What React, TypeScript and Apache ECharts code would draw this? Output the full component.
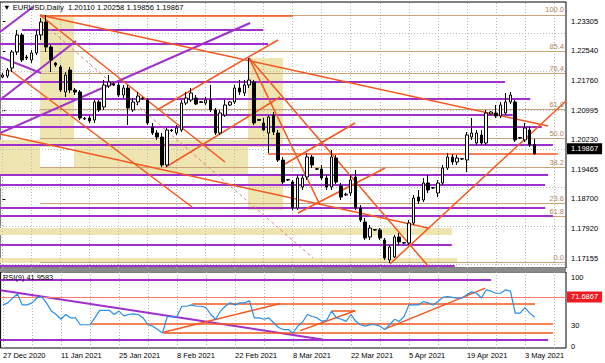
import React, { useEffect, useRef } from 'react';
import * as echarts from 'echarts';

const FONT = 'Liberation Sans, Arial, sans-serif';
const SLOTS = 117;
const LABEL_STEP = 12;
const GRID_STEP = 6;

const dateLabels = ['27 Dec 2020', '11 Jan 2021', '25 Jan 2021', '8 Feb 2021', '22 Feb 2021', '8 Mar 2021', '22 Mar 2021', '5 Apr 2021', '19 Apr 2021', '3 May 2021'];
const priceTicks = ['1.23305', '1.22540', '1.21760', '1.20995', '1.20230', '1.19465', '1.18700', '1.17920', '1.17155'];
const rsiTicks = ['100', '30', '0'];

const titleText = '\u25BC EURUSD,Daily  1.20110 1.20258 1.19856 1.19867';
const rsiTitle = 'RSI(9) 41.9583';
const lastClose = 1.19867;
const rsiMarker = 71.6867;

// [open, close, low, high]
const ohlc = [
  [1.21864, 1.21916, 1.21838, 1.21967], [1.2189, 1.22045, 1.21838, 1.22097], [1.22097, 1.22513, 1.21993, 1.22565],
  [1.22513, 1.22954, 1.22435, 1.23084], [1.22954, 1.22305, 1.22253, 1.23006], [1.22383, 1.22357, 1.22305, 1.22435],
  [1.22305, 1.22487, 1.22227, 1.22565], [1.22487, 1.22954, 1.22435, 1.23084], [1.22954, 1.23292, 1.22825, 1.23396],
  [1.23292, 1.22643, 1.22513, 1.23474], [1.22643, 1.22305, 1.21993, 1.22695], [1.22227, 1.22175, 1.22123, 1.22253],
  [1.22123, 1.21526, 1.21474, 1.22175], [1.21474, 1.21916, 1.21344, 1.21993], [1.22045, 1.21526, 1.21448, 1.22123],
  [1.21526, 1.21474, 1.21396, 1.21578], [1.21474, 1.20799, 1.20747, 1.21526], [1.2079, 1.20773, 1.20747, 1.20825],
  [1.20799, 1.20721, 1.20669, 1.20851], [1.20747, 1.21214, 1.20669, 1.21266], [1.21214, 1.21007, 1.20955, 1.21266],
  [1.21084, 1.21656, 1.21007, 1.21786], [1.2163, 1.21734, 1.21578, 1.21916], [1.2168, 1.21656, 1.2163, 1.21734],
  [1.21656, 1.21396, 1.21344, 1.21734], [1.21396, 1.21578, 1.21318, 1.21656], [1.21578, 1.21058, 1.20617, 1.21656],
  [1.21007, 1.21214, 1.20955, 1.21318], [1.21214, 1.2137, 1.21136, 1.21474], [1.21318, 1.21292, 1.21266, 1.21344],
  [1.21266, 1.20669, 1.20617, 1.21318], [1.20565, 1.20409, 1.20357, 1.20669], [1.20409, 1.20305, 1.20228, 1.20487],
  [1.20305, 1.19578, 1.19526, 1.20409], [1.19578, 1.20487, 1.19526, 1.20539], [1.20487, 1.2047, 1.20435, 1.20513],
  [1.20409, 1.20539, 1.20357, 1.20617], [1.20487, 1.21188, 1.20435, 1.21266], [1.21188, 1.21318, 1.21136, 1.21474],
  [1.21266, 1.21448, 1.21214, 1.21578], [1.21318, 1.21162, 1.21136, 1.21396], [1.2122, 1.21205, 1.21188, 1.2124],
  [1.21188, 1.21266, 1.21136, 1.21344], [1.21266, 1.21007, 1.20955, 1.21656], [1.21007, 1.20409, 1.20357, 1.21058],
  [1.20409, 1.20929, 1.20357, 1.21007], [1.20877, 1.21136, 1.20825, 1.21266], [1.21136, 1.21214, 1.2111, 1.2124],
  [1.21214, 1.21578, 1.21162, 1.21656], [1.21578, 1.21474, 1.21396, 1.21786], [1.21448, 1.21656, 1.2137, 1.21786],
  [1.21656, 1.21786, 1.21578, 1.22357], [1.21734, 1.20669, 1.20617, 1.21786], [1.2076, 1.2074, 1.20721, 1.20773],
  [1.20669, 1.20487, 1.20461, 1.20799], [1.20409, 1.20825, 1.1989, 1.20877], [1.20877, 1.20435, 1.20357, 1.20955],
  [1.20409, 1.19708, 1.19656, 1.20487], [1.19708, 1.19137, 1.19085, 1.19786], [1.192, 1.19189, 1.19163, 1.19215],
  [1.19137, 1.18461, 1.1841, 1.19189], [1.18461, 1.19241, 1.1841, 1.19319], [1.19007, 1.19241, 1.18929, 1.19319],
  [1.19267, 1.19786, 1.19189, 1.1989], [1.19786, 1.19578, 1.195, 1.19838], [1.1948, 1.1947, 1.19449, 1.195],
  [1.19474, 1.19241, 1.19189, 1.19578], [1.19241, 1.19007, 1.18929, 1.19319], [1.19007, 1.19786, 1.18929, 1.19968],
  [1.1976, 1.19137, 1.19085, 1.19838], [1.19033, 1.18747, 1.18669, 1.19111], [1.188, 1.1882, 1.1878, 1.1886],
  [1.18851, 1.19189, 1.18773, 1.19319], [1.19267, 1.18461, 1.1841, 1.19449], [1.18461, 1.1815, 1.18098, 1.18539],
  [1.18098, 1.17682, 1.17631, 1.18202], [1.17708, 1.17942, 1.17631, 1.1802], [1.179, 1.1789, 1.17864, 1.17916],
  [1.1789, 1.17682, 1.17631, 1.17942], [1.17631, 1.17163, 1.17111, 1.17682], [1.17111, 1.17449, 1.17033, 1.17501],
  [1.17189, 1.17708, 1.17163, 1.1776], [1.17708, 1.17579, 1.17501, 1.17812], [1.1756, 1.17553, 1.17527, 1.17579],
  [1.17553, 1.18072, 1.17501, 1.1815], [1.18072, 1.18721, 1.1802, 1.18799], [1.18747, 1.18643, 1.18565, 1.18929],
  [1.18669, 1.19111, 1.18617, 1.19241], [1.19111, 1.18929, 1.18851, 1.19319], [1.1899, 1.18981, 1.18955, 1.19007],
  [1.18851, 1.19111, 1.18747, 1.19189], [1.19111, 1.195, 1.19059, 1.19578], [1.195, 1.19786, 1.19449, 1.1989],
  [1.19786, 1.19656, 1.19578, 1.19864], [1.19656, 1.1976, 1.19578, 1.19838], [1.1974, 1.19734, 1.19708, 1.1976],
  [1.19708, 1.20357, 1.19397, 1.20435], [1.20305, 1.20409, 1.20228, 1.20799], [1.2015, 1.20409, 1.20098, 1.20487],
  [1.20357, 1.2015, 1.20098, 1.20487], [1.2015, 1.20929, 1.20098, 1.21007], [1.20903, 1.20955, 1.20877, 1.20981],
  [1.20929, 1.20851, 1.20799, 1.21136], [1.20851, 1.21136, 1.20799, 1.21214], [1.20929, 1.21214, 1.20877, 1.21448],
  [1.21214, 1.21396, 1.21162, 1.21474], [1.21214, 1.20228, 1.20176, 1.21266], [1.2029, 1.20279, 1.20253, 1.20305],
  [1.20228, 1.20539, 1.20176, 1.20669], [1.20487, 1.2011, 1.20046, 1.20565], [1.2011, 1.19867, 1.19856, 1.20258],
];

const rsi = [
  60, 63, 70, 76, 60, 60, 63, 70, 72, 63, 51, 46, 39, 46, 41, 41, 31, 31, 31, 41,
  52, 52, 52, 46, 51, 44, 46, 47, 46, 41, 31, 29, 24, 19, 43, 43, 43, 58, 58, 60,
  58, 58, 56, 46, 39, 51, 58, 63, 60, 63, 63, 66, 41, 41, 39, 41, 34, 27, 24, 24,
  19, 29, 35, 46, 43, 41, 36, 38, 51, 41, 39, 36, 46, 36, 31, 29, 31, 31, 29, 24,
  31, 39, 36, 43, 60, 60, 60, 65, 63, 60, 65, 71, 72, 71, 70, 70, 75, 79, 77, 70,
  82, 80, 77, 77, 82, 80, 48, 48, 56, 48, 42,
];

// Shaded zones [bar1, price1, bar2, price2]
const khakiZones = [
  [7.77, 1.23422, 14.8, 1.20046],
  [-0.5, 1.20228, 7.77, 1.195],
  [14.8, 1.20228, 50.77, 1.195],
  [-0.5, 1.195, 50.77, 1.19319],
  [50.77, 1.22357, 58.0, 1.20046],
  [50.77, 1.19319, 58.0, 1.1841],
  [-0.5, 1.17942, 92.94, 1.1776],
  [-0.5, 1.17163, 93.97, 1.17033],
];

// Fibonacci retracement
const fibHigh = 1.23474;
const fibLow = 1.17059;
const fibLevels = ['100.0', '85.4', '76.4', '61.8', '50.0', '38.2', '23.6', '0.0'];
const fibStart = 7.77;
const fibEnd = 116.3;
const extraFib = { label: '61.8', price: 1.18235 };

// Horizontal purple lines [bar1, bar2, price]
const purpleLevels = [
  [4.05, 53.9, 1.23097], [-0.5, 54.9, 1.22721], [-0.5, 103.9, 1.21747], [-0.5, 109.1, 1.21305],
  [-0.5, 105.5, 1.20877], [-0.5, 111.5, 1.20565], [-0.5, 113.8, 1.20098], [-0.5, 112.8, 1.19319],
  [-0.5, 112.2, 1.19059], [-0.5, 112.2, 1.18461], [-0.5, 113.8, 1.18254], [-0.5, 92.9, 1.17501],
  [-0.5, 93.5, 1.16955],
];
// Purple trend lines [bar1, price1, bar2, price2]
const purpleTrends = [
  [-0.5, 1.23032, 6.32, 1.23682],
  [-0.5, 1.20409, 51.2, 1.23266],
  [-0.5, 1.21266, 15.2, 1.22799],
  [-0.5, 1.22383, 7.97, 1.21967],
];
// Orange trend lines [bar1, price1, bar2, price2]
const orangeTrends = [
  [7.77, 1.23474, 112.8, 1.20591],
  [7.77, 1.23474, 46.0, 1.19656],
  [-0.5, 1.20383, 88.0, 1.17942],
  [1.57, 1.22045, 39.2, 1.18488],
  [31.95, 1.21007, 56.97, 1.22825],
  [33.8, 1.19526, 57.4, 1.21344],
  [51.0, 1.22357, 88.0, 1.16955],
  [51.0, 1.22357, 65.65, 1.1854],
  [61.1, 1.18332, 79.1, 1.195],
  [58.4, 1.19604, 72.9, 1.20669],
  [52.2, 1.16903, 116.5, 1.19181],
  [80.1, 1.17007, 116.5, 1.21241],
  [7.77, 1.23448, 60.07, 1.23448],
  [54.9, 1.19877, 114.8, 1.19877],
];
const dashedTrends = [[8.8, 1.23214, 64.2, 1.17163]];

// RSI pane objects [bar1, rsi1, bar2, rsi2]
const rsiPurple = [
  [-0.5, 96, 101, 96],
  [-0.5, 9.5, 112.8, 9.5],
  [-0.5, 81.5, 66.1, 9.5],
];
const rsiOrange = [
  [39.2, 61, 110.1, 61],
  [68, 51.5, 72.9, 51.5],
  [18.1, 32, 113.8, 32],
  [33.2, 20, 113.8, 20],
  [33.2, 20, 57.4, 62],
  [61.5, 22.5, 72.9, 51.5],
  [79.1, 25, 99.8, 84.5],
];

const C_PURPLE = '#a030cc';
const C_ORANGE = '#f4561d';
const C_TAN = '#c8a47a';
const C_KHAKI = '#eee5b0';
const C_GRID = '#b8b8b8';

const seg = (arr: number[][]) => arr.map(([a, b, c, d]) => [{ coord: [a, b] }, { coord: [c, d] }]);
const hseg = (arr: number[][]) => arr.map(([a, b, p]) => [{ coord: [a, p] }, { coord: [b, p] }]);

function buildOption() {
  const cats = Array.from({ length: SLOTS }, (_, i) => String(i));
  const vGrid = Array.from({ length: Math.floor(SLOTS / GRID_STEP) + 1 }, (_, k) => k * GRID_STEP).filter((v) => v <= SLOTS - 1);
  const textBase = { fontFamily: FONT, fontSize: 7.5, color: '#000' };

  const lineSeries = (name: string, xi: number, yi: number, markLine: any, z: number) => ({
    type: 'line', name, xAxisIndex: xi, yAxisIndex: yi, data: [], silent: true, z,
    markLine: { silent: true, symbol: ['none', 'none'], animation: false, label: { show: false }, ...markLine },
  });

  const fibLab = (txt: string) => ({ show: true, position: 'insideEndTop', formatter: txt, distance: [1, 1], ...textBase, color: '#b08560' });
  const fibData: any[] = fibLevels.map((lvl) => {
    const p = fibLow + (parseFloat(lvl) / 100) * (fibHigh - fibLow);
    return [{ coord: [fibStart, p], label: fibLab(lvl) }, { coord: [fibEnd, p], label: fibLab(lvl) }];
  });
  fibData.push([{ coord: [fibStart, extraFib.price], label: fibLab(extraFib.label) }, { coord: [fibEnd, extraFib.price], label: fibLab(extraFib.label) }]);

  const priceVals = priceTicks.map((t) => parseFloat(t));
  const rsiVals = rsiTicks.map((t) => parseFloat(t));

  return {
    animation: false,
    backgroundColor: '#fff',
    title: [
      { text: titleText, left: 3, top: 3, padding: 0, textStyle: { ...textBase, fontWeight: 'normal', fontSize: 7.6 } },
      { text: rsiTitle, left: 3, top: 274, padding: 0, textStyle: { ...textBase, fontWeight: 'normal', fontSize: 7.4 } },
    ],
    grid: [
      { left: 0, top: 2, width: 566, height: 266, show: true, borderColor: '#000', borderWidth: 1, backgroundColor: 'transparent' },
      { left: 0, top: 272, width: 566, height: 76, show: true, borderColor: '#000', borderWidth: 1, backgroundColor: 'transparent' },
    ],
    xAxis: [
      { type: 'category', gridIndex: 0, data: cats, boundaryGap: true, show: false },
      { type: 'value', gridIndex: 0, min: -0.5, max: SLOTS - 0.5, show: false },
      { type: 'value', gridIndex: 1, min: -0.5, max: SLOTS - 0.5, show: false },
      {
        type: 'category', gridIndex: 1, position: 'bottom', data: cats, boundaryGap: true,
        axisLine: { show: false }, axisTick: { show: false }, splitLine: { show: false },
        axisLabel: {
          interval: LABEL_STEP - 1, align: 'left', margin: 3, ...textBase,
          formatter: (_v: string, idx: number) => (idx % LABEL_STEP === 0 ? dateLabels[idx / LABEL_STEP] || '' : ''),
        },
      },
    ],
    yAxis: [
      {
        type: 'value', gridIndex: 0, position: 'right', min: 1.169034, max: 1.238114,
        axisLine: { show: false }, splitLine: { show: false },
        axisTick: { show: true, length: 3, customValues: priceVals, lineStyle: { color: '#000' } },
        axisLabel: { show: true, margin: 5, customValues: priceVals, formatter: (v: number) => v.toFixed(5), ...textBase },
      },
      {
        type: 'value', gridIndex: 1, position: 'right', min: -2.9, max: 108,
        axisLine: { show: false }, splitLine: { show: false },
        axisTick: { show: false, customValues: rsiVals },
        axisLabel: { show: true, margin: 5, customValues: rsiVals, formatter: (v: number) => String(Math.round(v)), ...textBase },
      },
    ],
    graphic: [
      { type: 'rect', shape: { x: 0, y: 268, width: 566, height: 4 }, style: { fill: '#8a8a8a' }, z: 100 },
    ],
    series: [
      {
        type: 'line', name: 'zones', xAxisIndex: 1, yAxisIndex: 0, data: [], silent: true, z: 1,
        markArea: {
          silent: true, animation: false, itemStyle: { color: C_KHAKI, borderWidth: 0 }, label: { show: false },
          data: seg(khakiZones),
        },
      },
      lineSeries('grid', 1, 0, {
        lineStyle: { color: C_GRID, type: [1, 2], width: 1 },
        data: [...priceVals.map((v) => ({ yAxis: v })), ...vGrid.map((v) => ({ xAxis: v }))],
      }, 2),
      lineSeries('fib', 1, 0, { lineStyle: { color: C_TAN, type: 'solid', width: 1 }, data: fibData }, 3),
      lineSeries('purple', 1, 0, { lineStyle: { color: C_PURPLE, type: 'solid', width: 2 }, data: [...hseg(purpleLevels), ...seg(purpleTrends)] }, 4),
      lineSeries('orange', 1, 0, { lineStyle: { color: C_ORANGE, type: 'solid', width: 1.5 }, data: seg(orangeTrends) }, 5),
      lineSeries('dashed', 1, 0, { lineStyle: { color: '#e07a70', type: [3, 3], width: 1 }, data: seg(dashedTrends) }, 5),
      {
        type: 'candlestick', name: 'EURUSD', xAxisIndex: 0, yAxisIndex: 0, data: ohlc, barWidth: 3, z: 10, silent: true,
        itemStyle: { color: '#fff', color0: '#000', borderColor: '#000', borderColor0: '#000', borderWidth: 1 },
        markLine: {
          silent: true, symbol: ['none', 'none'], animation: false,
          lineStyle: { width: 0, color: 'rgba(0,0,0,0)' },
          data: [{
            yAxis: lastClose,
            label: { show: true, position: 'end', distance: 1, formatter: lastClose.toFixed(5), ...textBase, color: '#fff', backgroundColor: '#000', padding: [2, 4, 1, 4] },
          }],
        },
      },
      lineSeries('rsiGrid', 2, 1, {
        lineStyle: { color: C_GRID, type: [1, 2], width: 1 },
        data: vGrid.map((v) => ({ xAxis: v })),
      }, 2),
      lineSeries('rsiPurple', 2, 1, { lineStyle: { color: C_PURPLE, type: 'solid', width: 2 }, data: seg(rsiPurple) }, 4),
      lineSeries('rsiOrange', 2, 1, { lineStyle: { color: C_ORANGE, type: 'solid', width: 1.5 }, data: seg(rsiOrange) }, 5),
      lineSeries('rsiMarker', 2, 1, {
        lineStyle: { color: '#ff7a6a', type: 'solid', width: 1 },
        data: [{
          yAxis: rsiMarker,
          label: { show: true, position: 'end', distance: 1, formatter: rsiMarker.toFixed(4), ...textBase, color: '#fff', backgroundColor: '#ee1c22', padding: [2, 4, 1, 4] },
        }],
      }, 5),
      {
        type: 'line', name: 'RSI(9)', xAxisIndex: 3, yAxisIndex: 1, data: rsi, symbol: 'none', silent: true, z: 10,
        lineStyle: { color: '#2a8ee8', width: 1.2 },
      },
    ],
  };
}

export default function App() {
  const ref = useRef<HTMLDivElement>(null);
  useEffect(() => {
    if (!ref.current) return;
    const chart = echarts.init(ref.current, null, { renderer: 'svg', width: 605, height: 363 });
    chart.setOption(buildOption() as any);
    return () => chart.dispose();
  }, []);
  return <div ref={ref} style={{ position: 'fixed', left: 0, top: 0, width: 605, height: 363, background: '#fff' }} />;
}
